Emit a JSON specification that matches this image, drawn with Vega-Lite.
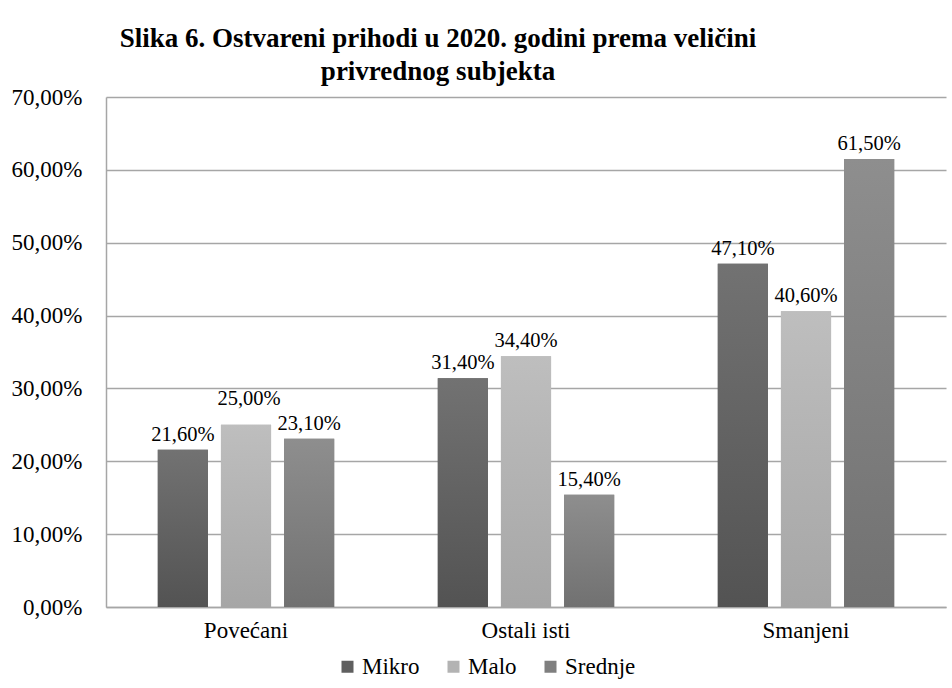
{
  "$schema": "https://vega.github.io/schema/vega-lite/v6.json",
  "autosize": {"type": "none"},
  "padding": {"left": 106, "top": 97, "right": 6, "bottom": 81},
  "width": 840,
  "height": 510,
  "background": "white",
  "config": {
    "locale": {"number": {"decimal": ",", "thousands": ".", "grouping": [3], "currency": ["", " €"]}},
    "font": "Liberation Serif, Times New Roman, serif",
    "view": {"stroke": null},
    "axis": {"labelFont": "Liberation Serif, Times New Roman, serif"},
    "legend": {"labelFont": "Liberation Serif, Times New Roman, serif"},
    "text": {"font": "Liberation Serif, Times New Roman, serif"}
  },
  "title": {
    "text": ["Slika 6. Ostvareni prihodi u 2020. godini prema veličini", "privrednog subjekta"],
    "font": "Liberation Serif, Times New Roman, serif",
    "fontSize": 27,
    "fontWeight": "bold",
    "color": "black",
    "anchor": "middle",
    "dx": -88,
    "offset": 0,
    "lineHeight": 33
  },
  "data": {
    "values": [
      {"Category": "Povećani", "Series": "Mikro", "Value": 0.216},
      {"Category": "Povećani", "Series": "Malo", "Value": 0.25},
      {"Category": "Povećani", "Series": "Srednje", "Value": 0.231},
      {"Category": "Ostali isti", "Series": "Mikro", "Value": 0.314},
      {"Category": "Ostali isti", "Series": "Malo", "Value": 0.344},
      {"Category": "Ostali isti", "Series": "Srednje", "Value": 0.154},
      {"Category": "Smanjeni", "Series": "Mikro", "Value": 0.471},
      {"Category": "Smanjeni", "Series": "Malo", "Value": 0.406},
      {"Category": "Smanjeni", "Series": "Srednje", "Value": 0.615}
    ]
  },
  "encoding": {
    "x": {
      "field": "Category", "type": "nominal", "sort": ["Povećani", "Ostali isti", "Smanjeni"],
      "scale": {"paddingInner": 0.37, "paddingOuter": 0.185},
      "axis": {"title": null, "labelAngle": 0, "labelFont": "Liberation Serif, Times New Roman, serif", "labelFontSize": 23, "labelColor": "black", "ticks": false, "labelPadding": 12, "domainColor": "#a6a6a6", "domainWidth": 1.5}
    },
    "xOffset": {
      "field": "Series", "type": "nominal", "sort": ["Mikro", "Malo", "Srednje"],
      "scale": {"paddingInner": 0.206, "paddingOuter": 0}
    },
    "y": {
      "field": "Value", "type": "quantitative",
      "scale": {"domain": [0, 0.7], "nice": false},
      "axis": {"title": null, "format": ".2%", "values": [0, 0.1, 0.2, 0.3, 0.4, 0.5, 0.6, 0.7], "labelOverlap": false, "labelFont": "Liberation Serif, Times New Roman, serif", "labelFontSize": 23, "labelColor": "black", "ticks": false, "labelPadding": 24, "domain": true, "domainColor": "#a6a6a6", "domainWidth": 1.5, "grid": true, "gridColor": "#a6a6a6", "gridWidth": 1.5}
    }
  },
  "layer": [
    {
      "mark": {"type": "bar"},
      "encoding": {
        "color": {
          "field": "Series", "type": "nominal", "sort": ["Mikro", "Malo", "Srednje"],
          "scale": {"domain": ["Mikro", "Malo", "Srednje"], "range": ["#5f5f5f", "#b3b3b3", "#7f7f7f"]},
          "legend": {"title": null, "orient": "none", "legendX": 230, "legendY": 558, "direction": "horizontal", "symbolType": "square", "symbolSize": 144, "symbolStrokeWidth": 0, "labelFont": "Liberation Serif, Times New Roman, serif", "labelFontSize": 23, "labelColor": "black", "labelOffset": 3, "columnPadding": 22}
        }
      }
    },
    {
      "transform": [{"filter": "datum.Series === 'Mikro'"}],
      "mark": {"type": "bar", "fill": {"gradient": "linear", "x1": 0, "y1": 0, "x2": 0, "y2": 1, "stops": [{"offset": 0, "color": "#727272"}, {"offset": 1, "color": "#535353"}]}}
    },
    {
      "transform": [{"filter": "datum.Series === 'Malo'"}],
      "mark": {"type": "bar", "fill": {"gradient": "linear", "x1": 0, "y1": 0, "x2": 0, "y2": 1, "stops": [{"offset": 0, "color": "#bebebe"}, {"offset": 1, "color": "#a6a6a6"}]}}
    },
    {
      "transform": [{"filter": "datum.Series === 'Srednje'"}],
      "mark": {"type": "bar", "fill": {"gradient": "linear", "x1": 0, "y1": 0, "x2": 0, "y2": 1, "stops": [{"offset": 0, "color": "#8e8e8e"}, {"offset": 1, "color": "#717171"}]}}
    },
    {
      "transform": [{"filter": "!(datum.Category === 'Povećani' && datum.Series === 'Malo')"}],
      "mark": {"type": "text", "baseline": "bottom", "dy": -5, "font": "Liberation Serif, Times New Roman, serif", "fontSize": 20.5, "color": "black"},
      "encoding": {"text": {"field": "Value", "type": "quantitative", "format": ".2%"}}
    },
    {
      "transform": [{"filter": "datum.Category === 'Povećani' && datum.Series === 'Malo'"}],
      "mark": {"type": "text", "baseline": "bottom", "dy": -16, "dx": 3, "font": "Liberation Serif, Times New Roman, serif", "fontSize": 20.5, "color": "black"},
      "encoding": {"text": {"field": "Value", "type": "quantitative", "format": ".2%"}}
    }
  ]
}
